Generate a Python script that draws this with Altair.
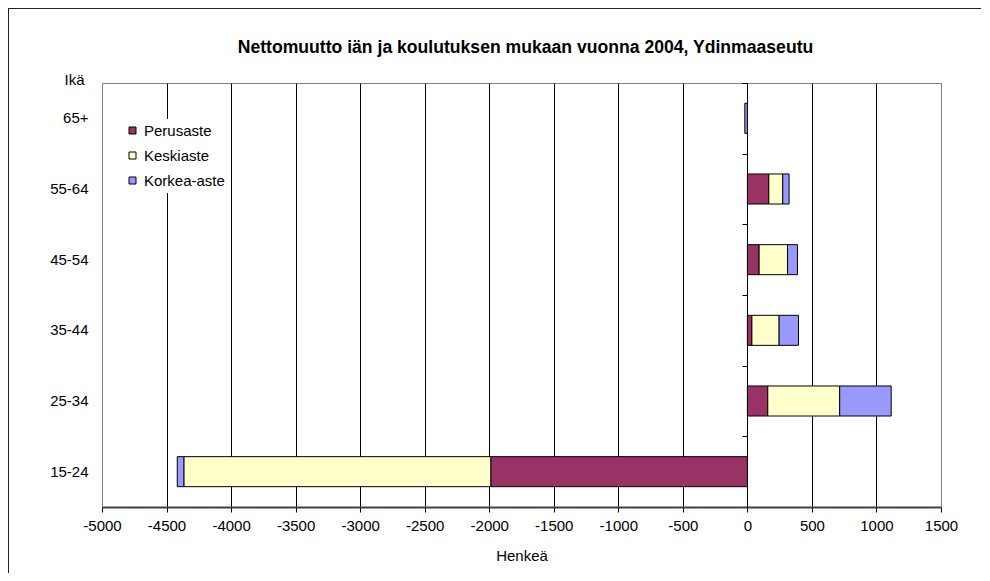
import altair as alt
import pandas as pd

# ---- data ----
ages = ["65+", "55-64", "45-54", "35-44", "25-34", "15-24"]
levels = ["Perusaste", "Keskiaste", "Korkea-aste"]
perusaste = [0, 166, 91, 35, 158, -1988]
keskiaste = [0, 108, 220, 211, 557, -2378]
korkea_aste = [-20, 49, 77, 150, 399, -51]
colors = ["#993366", "#FFFFCC", "#9999FF"]
x_ticks = list(range(-5000, 1501, 500))
title_text = "Nettomuutto iän ja koulutuksen mukaan vuonna 2004, Ydinmaaseutu"

rows = []
for i, a in enumerate(ages):
    for j, (lev, vals) in enumerate(zip(levels, [perusaste, keskiaste, korkea_aste])):
        rows.append({"Ikä": a, "Koulutus": lev, "Henkeä": vals[i], "order": j})
df = pd.DataFrame(rows)

FONT = "Liberation Sans"
W, H = 839, 424
PAD = {"left": 94, "top": 75, "right": 40, "bottom": 66}

y_scale = alt.Scale(domain=ages, paddingInner=0.575, paddingOuter=0.2875)
x_scale = alt.Scale(domain=[-5000, 1500], nice=False, zero=False)

bars = alt.Chart(df).mark_bar(stroke="black", strokeWidth=1).encode(
    x=alt.X(
        "Henkeä:Q",
        scale=x_scale,
        stack="zero",
        axis=alt.Axis(
            values=x_ticks,
            title="Henkeä",
            labelExpr="'' + datum.value",
            grid=True,
            gridColor={"condition": {"test": "datum.value == -5000 || datum.value == 1500",
                                      "value": "#808080"}, "value": "black"},
            gridWidth=1,
            gridOpacity=1,
            tickSize=5,
            tickColor="black",
            domainColor="#404040",
            domainWidth=2,
            labelFontSize=15,
            labelPadding=6,
            titlePadding=15,
            labelFlush=False,
        ),
    ),
    y=alt.Y(
        "Ikä:N",
        sort=ages,
        scale=y_scale,
        axis=alt.Axis(
            title="Ikä",
            titleAngle=0,
            titleX=-28,
            titleY=-4,
            titleAlign="center",
            titleBaseline="middle",
            ticks=False,
            domain=False,
            labelPadding=14,
            labelFontSize=15,
        ),
    ),
    color=alt.Color(
        "Koulutus:N",
        scale=alt.Scale(domain=levels, range=colors),
        legend=alt.Legend(
            title=None,
            orient="none",
            legendX=19,
            legendY=36,
            direction="vertical",
            symbolType="square",
            symbolSize=49,
            symbolStrokeColor="black",
            symbolStrokeWidth=1,
            symbolOpacity=1,
            labelFontSize=15,
            labelOffset=4,
            rowPadding=9,
            padding=4,
            fillColor="white",
        ),
    ),
    order=alt.Order("order:Q"),
)

# axis at zero with tick marks between age groups
zero_axis = alt.Chart(pd.DataFrame({"Ikä": ages})).mark_point(opacity=0).encode(
    y=alt.Y(
        "Ikä:N",
        sort=ages,
        scale=y_scale,
        axis=alt.Axis(
            orient="left",
            offset=-645,
            labels=False,
            title=None,
            ticks=True,
            tickSize=5,
            tickColor="black",
            tickOffset=-35.33,
            domain=True,
            domainColor="black",
            domainWidth=1,
            grid=False,
        ),
    ),
)

frame_top = alt.Chart(pd.DataFrame({"a": [0]})).mark_rule(color="#222222", strokeWidth=2).encode(
    x=alt.value(-PAD["left"]), x2=alt.value(W + PAD["right"]), y=alt.value(-PAD["top"])
)
frame_left = alt.Chart(pd.DataFrame({"a": [0]})).mark_rule(color="#222222", strokeWidth=2).encode(
    x=alt.value(-PAD["left"]), y=alt.value(-PAD["top"]), y2=alt.value(H + PAD["bottom"])
)

title_mark = alt.Chart(pd.DataFrame({"t": [title_text]})).mark_text(
    font=FONT, fontSize=17.6, fontWeight="bold", color="black", align="center", baseline="middle"
).encode(text="t:N", x=alt.value(W / 2 + 4), y=alt.value(-35))

chart = (
    alt.layer(bars, zero_axis, frame_top, frame_left, title_mark)
    .resolve_axis(y="independent")
    .properties(
        width=W,
        height=H,
        autosize=alt.AutoSizeParams(type="none"),
        padding=PAD,
    )
    .configure_view(stroke="#808080", strokeWidth=1)
    .configure_axis(
        labelFont=FONT,
        titleFont=FONT,
        labelColor="black",
        titleColor="black",
        titleFontSize=15,
        titleFontWeight="normal",
    )
    .configure_legend(labelFont=FONT, labelColor="black")
)

chart.save("out.html", embed_options={"renderer": "svg", "actions": False})
